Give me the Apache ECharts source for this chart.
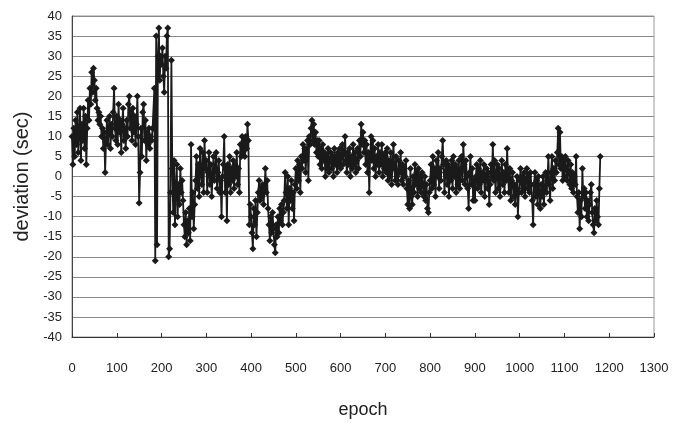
<!DOCTYPE html>
<html>
<head>
<meta charset="utf-8">
<script src="https://cdn.jsdelivr.net/npm/echarts@6/dist/echarts.min.js"></script>
<style>
html,body{margin:0;padding:0;background:#fff;}
#chart{width:683px;height:423px;}
</style>
</head>
<body>
<div id="chart"></div>
<script>
// epochs sampled every EPOCH_STEP, starting at 0
const EPOCH_STEP = 2;
const xTicks = [0,100,200,300,400,500,600,700,800,900,1000,1100,1200,1300];
const yTicks = [-40,-35,-30,-25,-20,-15,-10,-5,0,5,10,15,20,25,30,35,40];
// deviation (sec), rows of 50 epochs
const dev0000 = [10,3,12,5,14,8,16,6,11,17,4,13,9,17,7,15,3,12,19,14,22,18,26,21,27];
const dev0050 = [24,19,22,17,14,16,13,15,10,12,7,11,1,9,14,8,12,15,7,13,10,16,22,12,9];
const dev0100 = [15,8,18,11,14,6,13,17,9,12,7,14,10,18,20,12,16,9,17,11,15,8,13,20,10];
const dev0150 = [-6.6,1,12,5,16,18,9,14,4,11,8,12,7,10,9,12,12,22,-21,35,-17,30,37,24,30];
const dev0200 = [28,32,25,21,30,27,35,37,-20,-18,-4,29,2,-9,4,-12,-3,3,-10,-2,-7,2,-4,-1,-6];
const dev0250 = [-12,-15,-9,-17,-11,-14,-8,-16,8,-10,-4,-13,-7,-1,5,-3,3,-5,7,1,-2,6,-4,9,2];
const dev0300 = [4,-4,1,6,-2,3,-5,0,5,-1,2,6,-3,1,4,-4,-1,-10,0,3,10,-4,2,-11,3];
const dev0350 = [-2,5,-4,2,-1,4,-3,3,0,6,-2,2,-4,8,5,10,6,9,5,10,7,13,9,-12,-7];
const dev0400 = [-10,-14,-18,-8,-12,-6,-15,-9,-4,-1,-6,-3,-5,-2,-7,-3,2,-4,-1,-8,-12,-16,-10,-14,-9];
const dev0450 = [-13,-17,-19,-12,-15,-10,-14,-8,-11,-7,-12,-9,-6,1,-4,-8,0,-12,-3,-6,-1,-8,-4,-11,-2];
const dev0500 = [2,-3,4,-1,3,-4,5,2,8,4,7,1,6,9,-1,10,8,12,14,9,13,8,11,6,9];
const dev0550 = [5,9,3,7,2,8,4,6,0,5,2,7,1,4,6,2,5,0,7,3,5,1,6,3,7];
const dev0600 = [2,5,8,3,6,10,4,1,6,3,7,0,5,2,8,3,6,1,4,7,2,9,5,13,8];
const dev0650 = [11,6,9,3,8,1,6,-4,5,10,4,9,2,7,0,5,3,8,1,6,3,8,0,5,2];
const dev0700 = [6,1,7,-1,4,0,6,-2,3,8,2,-1,5,0,-2,4,1,6,-1,3,-2,2,0,4,-3];
const dev0750 = [-7,-1,-8,2,-5,-7,0,-4,3,-2,1,-5,2,-3,0,-4,1,-2,-5,0,-6,-2,-8,-9,-4];
const dev0800 = [-1,3,-3,5,-2,2,-5,4,0,6,-3,2,-1,5,9,3,-4,1,4,-2,3,-5,2,-1,4];
const dev0850 = [-3,5,0,3,-4,2,-2,4,-3,1,5,-1,8,3,-2,4,0,-3,-8,1,5,-2,2,-6,-1];
const dev0900 = [-6,0,3,-3,2,-2,4,-4,1,-1,3,-5,0,2,-3,1,-7,-2,3,0,8,-1,4,-4,1];
const dev0950 = [3,-3,2,-5,0,4,-2,1,-4,3,-1,7,0,-4,2,-6,-1,1,-5,-2,-7,-3,0,-10,-4];
const dev1000 = [-1,2,-4,0,-3,1,-5,-1,2,-3,0,-4,1,-2,-6,-12,-2,1,-5,-1,-7,0,-4,-8,-2];
const dev1050 = [-5,0,-7,-3,1,-4,-1,5,-2,-6,1,5,-3,2,-1,4,1,6,12,3,11,2,5,-1,4];
const dev1100 = [0,5,2,-1,4,1,-2,3,-3,1,-4,0,-2,5,-5,-9,-4,-13,-6,-10,2,-5,-3,-8,-4];
const dev1150 = [-10,-6,-11,-7,-4,-2,-9,-12,-14,-8,-11,-6,-10,-12,-3,5];

const deviation = [].concat(dev0000,dev0050,dev0100,dev0150,dev0200,dev0250,dev0300,dev0350,
  dev0400,dev0450,dev0500,dev0550,dev0600,dev0650,dev0700,dev0750,dev0800,dev0850,dev0900,
  dev0950,dev1000,dev1050,dev1100,dev1150);
const seriesData = deviation.map((v, i) => [i * EPOCH_STEP, v]);

const FONT = "'Liberation Sans Narrow','Liberation Sans',Arial,sans-serif";
const chart = echarts.init(document.getElementById('chart'), null, {renderer: 'canvas'});
chart.setOption({
  animation: false,
  backgroundColor: '#fff',
  grid: {left: 72, right: 29, top: 16, bottom: 86, containLabel: false, outerBoundsMode: 'none',
         show: true, borderColor: '#999', borderWidth: 1, backgroundColor: 'transparent'},
  xAxis: {
    type: 'value', min: xTicks[0], max: xTicks[xTicks.length - 1], interval: 100,
    name: 'epoch', nameLocation: 'middle', nameGap: 64,
    nameTextStyle: {fontFamily: 'Liberation Sans, Arial, sans-serif', fontSize: 18, color: '#222'},
    axisLine: {show: true, onZero: false, lineStyle: {color: '#333', width: 1}},
    axisTick: {show: true, inside: true, length: 4, lineStyle: {color: '#333'}},
    axisLabel: {margin: 25, fontFamily: FONT, fontSize: 13, color: '#222', formatter: v => String(v)},
    splitLine: {show: false}
  },
  yAxis: {
    type: 'value', min: yTicks[0], max: yTicks[yTicks.length - 1], interval: 5,
    name: 'deviation (sec)', nameLocation: 'middle', nameGap: 40, nameRotate: 90,
    nameTextStyle: {fontFamily: 'Liberation Sans, Arial, sans-serif', fontSize: 20, color: '#222'},
    axisLine: {show: true, onZero: false, lineStyle: {color: '#444', width: 1}},
    axisTick: {show: false},
    axisLabel: {margin: 10, fontFamily: FONT, fontSize: 13, color: '#222', formatter: v => String(v)},
    splitLine: {show: true, lineStyle: {color: '#8a8a8a', width: 1}}
  },
  series: [{
    type: 'line',
    data: seriesData,
    symbol: 'diamond',
    symbolSize: 7,
    showAllSymbol: true,
    itemStyle: {color: '#1a1a1a'},
    lineStyle: {color: '#1a1a1a', width: 1.8},
    emphasis: {disabled: true}
  }]
});
</script>
</body>
</html>
